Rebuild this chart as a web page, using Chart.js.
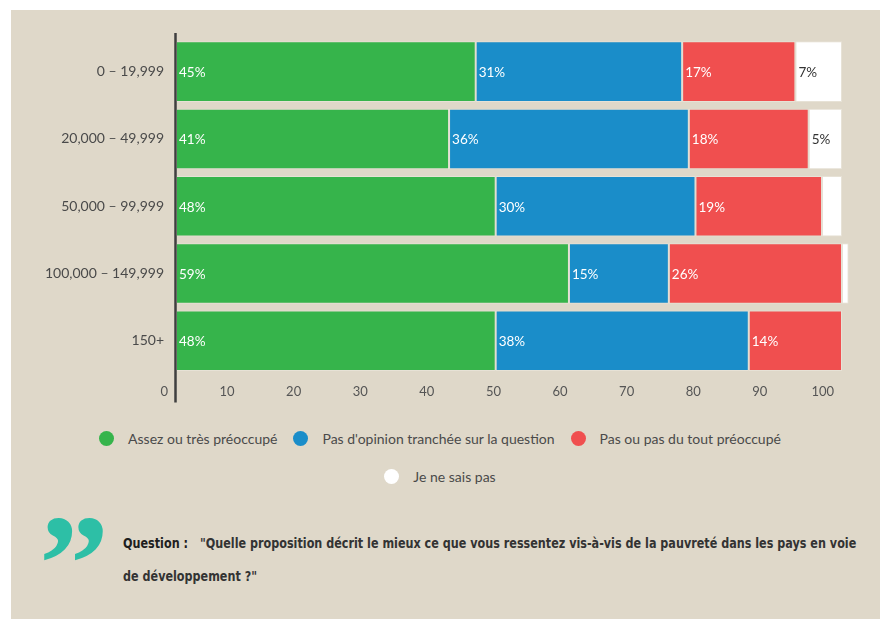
<!DOCTYPE html>
<html lang="fr">
<head>
<meta charset="utf-8">
<title>Préoccupation et pauvreté selon le revenu</title>
<script src="https://cdn.jsdelivr.net/npm/chart.js@4.4.1/dist/chart.umd.min.js"></script>
<style>
    body {
        margin: 0;
        background: #ffffff;
        width: 880px;
        height: 619px;
        position: relative;
        overflow: hidden;
        font-family: Lato, "Noto Sans", sans-serif;
    }
    .panel {
        position: absolute;
        left: 11px;
        top: 10px;
        width: 869px;
        height: 609px;
        background: #dfd8c9;
    }
    #chartBox {
        position: absolute;
        left: 0;
        top: 0;
        width: 880px;
        height: 410px;
    }
    #legend {
        position: absolute;
        left: 90px;
        top: 427px;
        width: 700px;
        display: flex;
        flex-wrap: wrap;
        justify-content: center;
        row-gap: 16px;
        margin: 0;
        padding: 0;
        list-style: none;
    }
    #legend li {
        display: flex;
        align-items: center;
        height: 22px;
        margin: 0 8px;
        font-size: 14px;
        color: #4a4a4a;
    }
    #legend .dot {
        width: 15px;
        height: 15px;
        border-radius: 50%;
        margin-right: 14px;
    }
    .quote-mark {
        position: absolute;
        left: 39px;
        top: 499px;
        font-family: "Liberation Serif", "DejaVu Serif", serif;
        font-weight: bold;
        font-size: 140px;
        line-height: 130px;
        color: #2dbfa6;
    }
    .question {
        position: absolute;
        left: 123px;
        top: 527px;
        white-space: nowrap;
        transform: scaleX(0.8);
        transform-origin: left top;
        font-family: "DejaVu Sans", sans-serif;
        font-weight: bold;
        font-size: 14px;
        line-height: 33px;
        color: #333333;
    }
    .question b {
        color: #1e1e1e;
        margin-right: 10px;
    }
</style>
</head>
<body>
<div class="panel"></div>
<div id="chartBox"><canvas id="incomeChart"></canvas></div>
<ul id="legend"></ul>
<div class="quote-mark">”</div>
<div class="question"><b>Question :</b> "Quelle proposition décrit le mieux ce que vous ressentez vis-à-vis de la pauvreté dans les pays en voie<br>de développement ?"</div>

<script>
// Tranches de revenu
const incomeRanges = ['0 – 19,999', '20,000 – 49,999', '50,000 – 99,999', '100,000 – 149,999', '150+'];

// Réponses en %
const concerned = [45, 41, 48, 59, 48];
const noOpinion = [31, 36, 30, 15, 38];
const notConcerned = [17, 18, 19, 26, 14];
const dontKnow = [7, 5, 3, 1, 0];

const answerLabels = [
    'Assez ou très préoccupé',
    "Pas d'opinion tranchée sur la question",
    'Pas ou pas du tout préoccupé',
    'Je ne sais pas'
];

const xTicks = [0, 10, 20, 30, 40, 50, 60, 70, 80, 90, 100];

const barColors = ['#36b44b', '#1a8dc9', '#f04f4f', '#ffffff'];
const valueColors = ['#ffffff', '#ffffff', '#ffffff', '#333333'];

// Pourcentages écrits au début de chaque segment
const segmentValues = {
    id: 'segmentValues',
    afterDatasetsDraw(chart) {
        const ctx = chart.ctx;
        ctx.save();
        ctx.font = '13.5px Lato, sans-serif';
        ctx.textAlign = 'left';
        ctx.textBaseline = 'middle';
        chart.data.datasets.forEach((ds, di) => {
            const meta = chart.getDatasetMeta(di);
            meta.data.forEach((bar, i) => {
                const v = ds.data[i];
                if (v < 5) return; // trop étroit pour un libellé
                ctx.fillStyle = valueColors[di];
                ctx.fillText(v + '%', Math.min(bar.base, bar.x) + 3, bar.y + 1);
            });
        });
        ctx.restore();
    }
};

// Trait vertical de l'axe, prolongé jusqu'aux graduations
const axisLine = {
    id: 'axisLine',
    afterDatasetsDraw(chart) {
        const {ctx, chartArea} = chart;
        ctx.save();
        ctx.strokeStyle = '#3f3f3f';
        ctx.lineWidth = 2.5;
        ctx.beginPath();
        ctx.moveTo(chartArea.left - 0.5, chartArea.top - 5);
        ctx.lineTo(chartArea.left - 0.5, chartArea.bottom + 28);
        ctx.stroke();
        ctx.restore();
    }
};

const datasets = [concerned, noOpinion, notConcerned, dontKnow].map((values, i) => ({
    label: answerLabels[i],
    data: values,
    backgroundColor: barColors[i],
    borderColor: 'rgba(255,255,255,0.25)',
    borderWidth: 1,
    borderSkipped: false,
    categoryPercentage: 0.9,
    barPercentage: 1,
    clip: false
}));

const chart = new Chart(document.getElementById('incomeChart'), {
    type: 'bar',
    data: {
        labels: incomeRanges,
        datasets: datasets
    },
    options: {
        indexAxis: 'y',
        responsive: true,
        maintainAspectRatio: false,
        animation: false,
        layout: {
            padding: {top: 38, right: 38, bottom: 0, left: 0}
        },
        scales: {
            x: {
                stacked: true,
                min: 0,
                max: 100,
                afterBuildTicks: (scale) => {
                    scale.ticks = xTicks.map(v => ({value: v}));
                },
                grid: {display: false, drawTicks: false},
                border: {display: false},
                ticks: {
                    align: 'end',
                    labelOffset: -8,
                    padding: 10,
                    color: '#555555',
                    font: {family: 'Lato', size: 13}
                }
            },
            y: {
                stacked: true,
                grid: {display: false, drawTicks: false},
                border: {display: false},
                afterFit: (scale) => {
                    scale.width = 176;
                },
                ticks: {
                    padding: 12,
                    color: '#4a4a4a',
                    font: {family: 'Lato', size: 14}
                }
            }
        },
        plugins: {
            legend: {display: false},
            tooltip: {enabled: false}
        }
    },
    plugins: [segmentValues, axisLine]
});

// Légende HTML (deux lignes, centrée)
const legendList = document.getElementById('legend');
chart.data.datasets.forEach((ds) => {
    const li = document.createElement('li');
    const dot = document.createElement('span');
    dot.className = 'dot';
    dot.style.background = ds.backgroundColor;
    const txt = document.createElement('span');
    txt.textContent = ds.label;
    li.appendChild(dot);
    li.appendChild(txt);
    legendList.appendChild(li);
});
</script>
</body>
</html>
